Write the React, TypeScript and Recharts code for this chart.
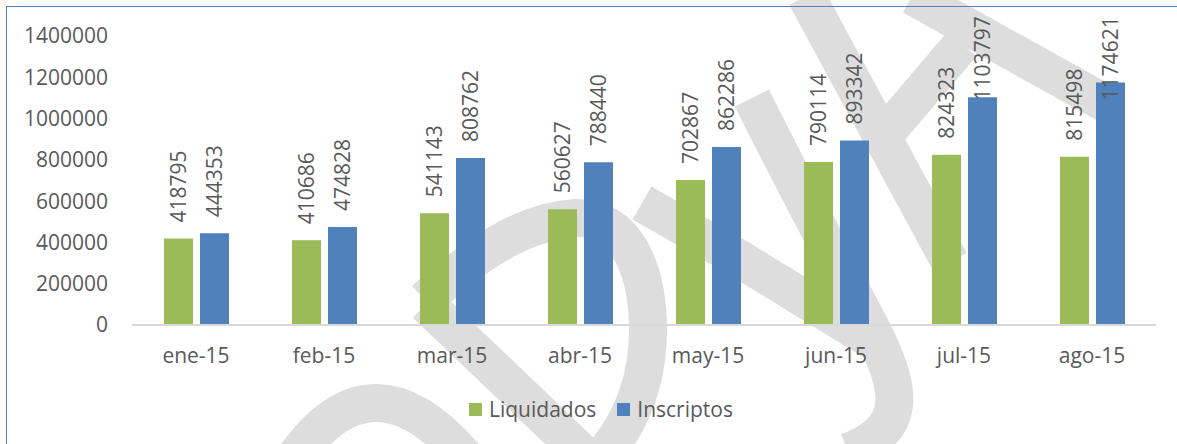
import React from 'react';
import { BarChart, Bar, XAxis, YAxis, LabelList } from 'recharts';

const categories = ['ene-15', 'feb-15', 'mar-15', 'abr-15', 'may-15', 'jun-15', 'jul-15', 'ago-15'];
const liquidados = [418795, 410686, 541143, 560627, 702867, 790114, 824323, 815498];
const inscriptos = [444353, 474828, 808762, 788440, 862286, 893342, 1103797, 1174621];
const yTicks = [0, 200000, 400000, 600000, 800000, 1000000, 1200000, 1400000];
const seriesNames = ['Liquidados', 'Inscriptos'];
const seriesColors = ['#9BBB59', '#4F81BD'];

const data = categories.map((c, i) => ({ name: c, liquidados: liquidados[i], inscriptos: inscriptos[i] }));

const FONT = '"Open Sans", sans-serif';
const TEXT = '#595959';

// decorative background watermark strokes
const WATERMARK_PATHS = [
  'M 296 456 Q 372 350 464 456',
  'M 425 300 C 470 258, 520 222, 575 218 C 625 216, 648 268, 648 330 C 648 380, 632 420, 606 452',
  'M 426 304 L 604 474',
  'M 642 203 L 738 258 L 878 344',
  'M 752 98 C 790 175, 830 250, 872 330 C 905 395, 905 430, 848 452',
  'M 806 -4 L 950 262',
  'M 912 -4 L 1110 106',
  'M 962 44 L 880 140',
];

const RotLabel = (props: any) => {
  const { x, y, width, value } = props;
  const cx = Number(x) + Number(width) / 2;
  const s = String(value);
  const len = s.length * 12.2;
  const base = Math.max(Number(y) - 16, 15 + len);
  return (
    <text
      x={0}
      y={0}
      transform={`translate(${cx + 7.5},${base}) rotate(-90)`}
      fill={TEXT}
      fontSize={21}
      fontFamily={FONT}
      textAnchor="start"
    >
      {s}
    </text>
  );
};

export default function App() {
  return (
    <div style={{ position: 'absolute', left: 0, top: 0, width: 1177, height: 444, background: '#fff', overflow: 'hidden' }}>
      <svg width={1177} height={444} style={{ position: 'absolute', left: 0, top: 0 }}>
        {WATERMARK_PATHS.map((d, i) => (
          <path key={i} d={d} fill="none" stroke="#DDDDDD" strokeWidth={38} strokeLinejoin="round" />
        ))}
      </svg>
      <div style={{ position: 'absolute', left: 6, top: 6, width: 1200, height: 460, borderLeft: '1.5px solid #4F81BD', borderTop: '1.5px solid #4F81BD' }} />
      <div style={{ position: 'absolute', left: 0, top: 0 }}>
        <BarChart
          width={1177}
          height={444}
          data={data}
          margin={{ top: 36, right: 21, bottom: 79, left: 0 }}
          barSize={29}
          barGap={7}
        >
          <XAxis
            dataKey="name"
            axisLine={{ stroke: '#D9D9D9', strokeWidth: 2 }}
            tickLine={false}
            tickSize={0}
            tickMargin={23}
            height={40}
            tick={{ fill: TEXT, fontSize: 21, fontFamily: FONT }}
            interval={0}
          />
          <YAxis
            width={132}
            domain={[0, 1400000]}
            ticks={yTicks}
            axisLine={false}
            tickLine={false}
            tickSize={0}
            tickMargin={24}
            tick={{ fill: TEXT, fontSize: 21, fontFamily: FONT }}
            interval={0}
          />
          <Bar dataKey="liquidados" name={seriesNames[0]} fill={seriesColors[0]} isAnimationActive={false}>
            <LabelList dataKey="liquidados" content={RotLabel} />
          </Bar>
          <Bar dataKey="inscriptos" name={seriesNames[1]} fill={seriesColors[1]} isAnimationActive={false}>
            <LabelList dataKey="inscriptos" content={RotLabel} />
          </Bar>
        </BarChart>
      </div>
      <div style={{ position: 'absolute', left: 469, top: 394, display: 'flex', alignItems: 'center', fontFamily: FONT, fontSize: 21, color: TEXT, lineHeight: '30px' }}>
        {seriesNames.map((n, i) => (
          <div key={n} style={{ display: 'flex', alignItems: 'center', marginRight: i === 0 ? 21 : 0 }}>
            <div style={{ width: 13, height: 13, background: seriesColors[i], marginRight: 7 }} />
            <span>{n}</span>
          </div>
        ))}
      </div>
    </div>
  );
}
